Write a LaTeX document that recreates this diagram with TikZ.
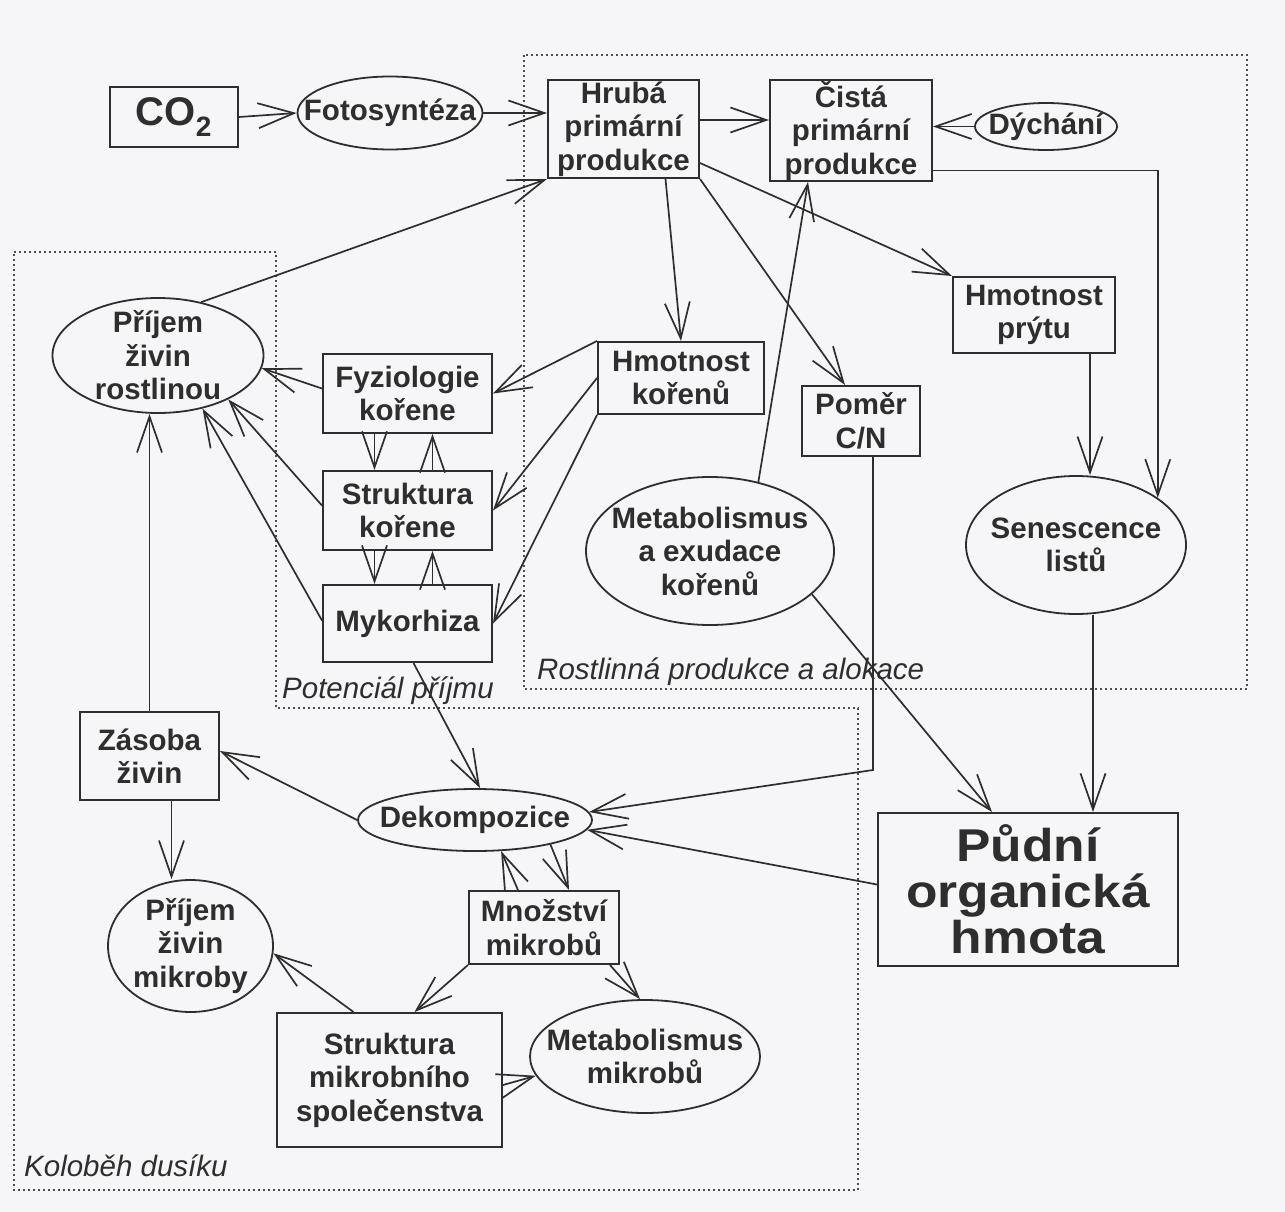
\documentclass[tikz,border=0pt]{standalone}
\usepackage{fontspec}
\setmainfont{Liberation Sans}
\newfontfamily\widesans[FakeStretch=1.12]{Liberation Sans}
\usetikzlibrary{arrows.meta,shapes.geometric}
\definecolor{ink}{HTML}{2E2E2E}
\definecolor{paper}{HTML}{F6F6F8}

\begin{document}
\begin{tikzpicture}[x=1pt, y={(0pt,-1pt)},
  every node/.style={font=\bfseries\fontsize{29.5}{33.5}\selectfont, text=ink, align=center},
  box/.style={draw=ink, line width=2pt, rectangle, inner sep=-3pt},
  oval/.style={draw=ink, line width=1.8pt, ellipse, inner sep=-40pt},
  arr/.style={draw=ink, line width=1.7pt, -{Straight Barb[length=36pt, width=25pt]}},
  region/.style={draw=ink!85, line width=1.6pt, dash pattern=on 1.6pt off 3.4pt},
  tag/.style={font=\itshape\fontsize{29.5}{33.5}\selectfont, anchor=base west, inner sep=0pt}]
  \fill[paper] (0,0) rectangle (1285,1212);
  \useasboundingbox (0,0) rectangle (1285,1212);

  \draw[region] (524,55) rectangle (1247,689);
  \draw[region] (14,252) -- (276,252) -- (276,708) -- (858,708) -- (858,1190) -- (14,1190) -- cycle;
  \node[tag] (rostl) at (537,679) {Rostlinná produkce a alokace};
  \node[tag] (potenc) at (282,698) {Potenciál příjmu};
  \node[tag] (kolob) at (24,1176) {Koloběh dusíku};

  \node[box, minimum width=128pt, minimum height=60pt, font=\bfseries\fontsize{40}{44}\selectfont] (co2) at (174,117) {CO\textsubscript{2}};
  \node[oval, minimum width=185pt, minimum height=73pt] (foto) at (390,113) {Fotosyntéza};
  \node[box, minimum width=151pt, minimum height=98pt] (hruba) at (623.5,129) {Hrubá\\primární\\produkce};
  \node[box, minimum width=162pt, minimum height=101pt] (cista) at (851,130.5) {Čistá\\primární\\produkce};
  \node[oval, minimum width=142pt, minimum height=47pt] (dych) at (1046,126.5) {Dýchání};
  \node[box, minimum width=162pt, minimum height=76pt] (prytu) at (1034,315) {Hmotnost\\prýtu};
  \node[oval, minimum width=211pt, minimum height=115pt] (prijemR) at (158,355.5) {Příjem\\živin\\rostlinou};
  \node[box, minimum width=169pt, minimum height=79pt] (fyz) at (407.5,393.5) {Fyziologie\\kořene};
  \node[box, minimum width=166pt, minimum height=72pt] (hmkor) at (681,378) {Hmotnost\\kořenů};
  \node[box, minimum width=118pt, minimum height=70pt] (pomer) at (861,421) {Poměr\\C/N};
  \node[box, minimum width=169pt, minimum height=79pt] (strk) at (407.5,510.5) {Struktura\\kořene};
  \node[oval, minimum width=248pt, minimum height=148pt] (metR) at (710,551) {Metabolismus\\a exudace\\kořenů};
  \node[oval, minimum width=220pt, minimum height=138pt] (senes) at (1076,545) {Senescence\\listů};
  \node[box, minimum width=169pt, minimum height=77pt] (myk) at (407.5,623.5) {Mykorhiza};
  \node[box, minimum width=139pt, minimum height=88pt] (zasoba) at (149.5,756) {Zásoba\\živin};
  \node[oval, minimum width=234pt, minimum height=62pt] (dekomp) at (475,820) {Dekompozice};
  \node[box, minimum width=300pt, minimum height=153pt, font=\widesans\bfseries\fontsize{46}{46}\selectfont] (pudni) at (1028,889.5) {Půdní\\organická\\hmota};
  \node[oval, minimum width=165pt, minimum height=132pt] (prijemM) at (190.5,946) {Příjem\\živin\\mikroby};
  \node[box, minimum width=150pt, minimum height=73pt] (mnoz) at (544,927.5) {Množství\\mikrobů};
  \node[box, minimum width=225pt, minimum height=134pt] (strM) at (389.5,1080) {Struktura\\mikrobního\\společenstva};
  \node[oval, minimum width=230pt, minimum height=113pt] (metM) at (645,1056.5) {Metabolismus\\mikrobů};

  \draw[arr] (co2.east) -- (foto.west);
  \draw[arr] (foto.east) -- (foto.east -| hruba.west);
  \draw[arr] ([yshift=9pt]hruba.east) -- ([yshift=9pt]hruba.east -| cista.west);
  \draw[arr] (dych.west) -- (dych.west -| cista.east);
  \draw[arr] (prijemR.51) -- (hruba.south west);
  \draw[arr] ([xshift=42pt]hruba.south) -- (hmkor.north);
  \draw[arr] (hruba.south east) -- ([xshift=-16pt]pomer.north);
  \draw[arr] ([yshift=-34pt]hruba.east) -- (prytu.north west);
  \draw[arr] (metR.55) -- ([xshift=-43pt]cista.south);
  \draw[arr] ([yshift=-40pt]cista.east) -| (senes.30);
  \draw[arr] ([xshift=56pt]prytu.south) -- ([xshift=56pt]prytu.south |- senes.north);
  \draw[arr] ([xshift=65pt]pudni.north |- senes.south) -- ([xshift=65pt]pudni.north);
  \draw[arr] (metR.-23) -- ([xshift=-36pt]pudni.north);
  \draw[arr] ([xshift=12pt]pomer.south) -- ++(0,313) -- (dekomp.4);
  \draw[arr] ([yshift=5pt]pudni.west) -- (dekomp.-5);

  \draw[arr] (hmkor.north west) -- (fyz.east);
  \draw[arr] (hmkor.west) -- (strk.east);
  \draw[arr] (hmkor.south west) -- (myk.east);
  \draw[arr] ([yshift=5pt]fyz.west) -- (prijemR.-7);
  \draw[arr] ([yshift=5pt]strk.west) -- (prijemR.-32);
  \draw[arr] ([yshift=3pt]myk.west) -- (prijemR.-50);
  \draw[arr] (zasoba.north) -- (zasoba.north |- prijemR.south);
  \foreach \a/\b in {fyz/strk, strk/myk} {
    \draw[arr] ([xshift=-33pt]\a.south) -- ([xshift=-33pt]\b.north);
    \draw[arr] ([xshift=25pt]\b.north) -- ([xshift=25pt]\a.south);
  }
  \draw[arr] ([xshift=6pt]myk.south) -- ([xshift=5pt]dekomp.north);

  \draw[arr] (dekomp.west) -- ([yshift=5pt]zasoba.east);
  \draw[arr] ([xshift=22pt]zasoba.south) -- ([xshift=22pt]zasoba.south |- prijemM.north);
  \draw[arr] ([xshift=-26pt]mnoz.north) -- (dekomp.-50);
  \draw[arr] (dekomp.-18) -- ([xshift=25pt]mnoz.north);
  \draw[arr] (mnoz.south west) -- ([xshift=25pt]strM.north);
  \draw[arr] ([xshift=66pt]mnoz.south) -- ([xshift=-5pt]metM.north);
  \draw[arr] ([xshift=-36pt]strM.north) -- (prijemM.-5);
  \draw[arr] ([yshift=-5pt]strM.east) -- (metM.190);
\end{tikzpicture}
\end{document}
